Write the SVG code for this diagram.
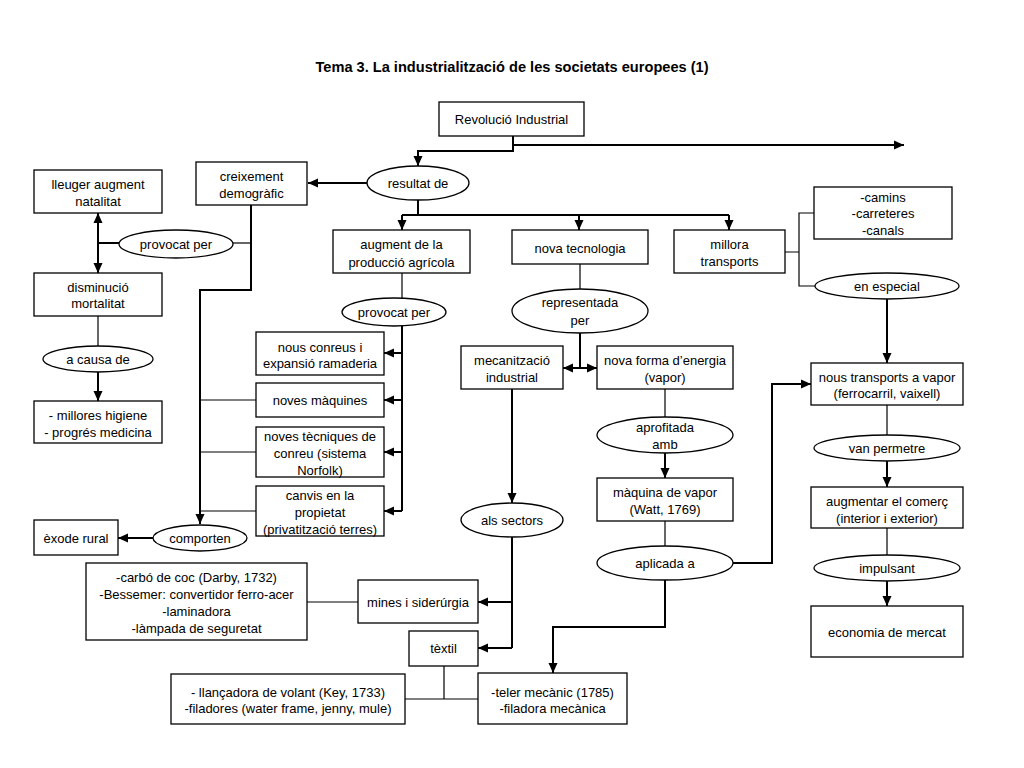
<svg xmlns="http://www.w3.org/2000/svg" width="1024" height="768" viewBox="0 0 1024 768">
<style>
text{font-family:"Liberation Sans",Arial,sans-serif;font-size:13px;fill:#000;text-anchor:middle;dominant-baseline:central}
.title{font-size:14.6px;font-weight:bold}
rect,ellipse{fill:#fff;stroke:#000;stroke-width:1.3}
.c path{fill:none;stroke:#000}
.a{stroke-width:2;marker-end:url(#ah)}
.t{stroke-width:1.2}
.k{stroke-width:2}
</style>
<defs>
<marker id="ah" markerUnits="userSpaceOnUse" markerWidth="10" markerHeight="10" viewBox="0 0 10 10" refX="10" refY="5" orient="auto"><path d="M0,0.5 L10,5 L0,9.5 Z" fill="#000"/></marker>
<marker id="as" markerUnits="userSpaceOnUse" markerWidth="10" markerHeight="10" viewBox="0 0 10 10" refX="0" refY="5" orient="auto"><path d="M10,0.5 L0,5 L10,9.5 Z" fill="#000"/></marker>
</defs>
<rect x="0" y="0" width="1024" height="768" style="fill:#fff;stroke:none"/>
<text class="title" x="512" y="67">Tema 3. La industrialització de les societats europees (1)</text>

<g class="c" id="connectors">
<path class="a" d="M513,136 V151 H418 V166"/>
<path class="a" d="M513,145 H904"/>
<path class="a" d="M367,183 H308"/>
<path class="k" d="M418,200 V215 M402,215 H729"/>
<path class="a" d="M402,215 V230"/>
<path class="a" d="M579,215 V230"/>
<path class="a" d="M729,215 V230"/>
<path class="a" d="M98,213 V273" style="marker-start:url(#as)"/>
<path class="k" d="M98,243 H119"/>
<path class="t" d="M233,243 H251"/>
<path class="a" d="M251,205 V290 H200 V524"/>
<path class="t" d="M200,400 H256 M200,452 H256 M200,511 H256"/>
<path class="a" d="M153,538 H118"/>
<path class="t" d="M98,316 V346"/>
<path class="a" d="M98,372 V401"/>
<path class="t" d="M402,273 V298"/>
<path class="k" d="M402,326 V511"/>
<path class="a" d="M402,353 H384"/>
<path class="a" d="M402,400 H384"/>
<path class="a" d="M402,452 H384"/>
<path class="a" d="M402,511 H384"/>
<path class="t" d="M580,264 V289"/>
<path class="k" d="M580,333 V368"/>
<path class="a" d="M580,368 H563"/>
<path class="a" d="M580,368 H597"/>
<path class="a" d="M512,389 V503"/>
<path class="k" d="M512,537 V648"/>
<path class="a" d="M512,602 H478"/>
<path class="a" d="M512,648 H478"/>
<path class="t" d="M665,389 V418"/>
<path class="a" d="M665,453 V478"/>
<path class="t" d="M665,521 V546"/>
<path class="a" d="M733,563 H772 V384 H811"/>
<path class="a" d="M665,580 V627 H553 V673"/>
<path class="t" d="M307,602 H358"/>
<path class="t" d="M444,666 V699 M405,699 H478"/>
<path class="t" d="M785,252 H799 M814,213 H799 V286 H815"/>
<path class="a" d="M887,299 V363"/>
<path class="t" d="M887,405 V435"/>
<path class="a" d="M887,461 V487"/>
<path class="t" d="M887,528 V555"/>
<path class="a" d="M887,581 V606"/>
</g>

<g id="revolucio"><rect x="439" y="102" width="145" height="34"/><text x="511.5" y="119">Revolució Industrial</text></g>
<g id="resultat"><ellipse cx="418" cy="183" rx="51" ry="17"/><text x="418" y="183">resultat de</text></g>
<g id="creixement"><rect x="196" y="162" width="111" height="43"/><text x="251.5" y="176">creixement</text><text x="251.5" y="193">demogràfic</text></g>
<g id="lleuger"><rect x="34" y="170" width="128" height="43"/><text x="98" y="184">lleuger augment</text><text x="98" y="201">natalitat</text></g>
<g id="provocat1"><ellipse cx="176" cy="244" rx="57" ry="14"/><text x="176" y="244">provocat per</text></g>
<g id="disminucio"><rect x="34" y="273" width="128" height="43"/><text x="98" y="287">disminució</text><text x="98" y="303">mortalitat</text></g>
<g id="acausa"><ellipse cx="98" cy="359" rx="55" ry="13"/><text x="98" y="359">a causa de</text></g>
<g id="millores"><rect x="34" y="401" width="128" height="42"/><text x="98" y="415">- millores higiene</text><text x="98" y="432">- progrés medicina</text></g>
<g id="exode"><rect x="34" y="520" width="84" height="35"/><text x="76" y="538">èxode rural</text></g>
<g id="comporten"><ellipse cx="200" cy="538" rx="47" ry="13"/><text x="200" y="538">comporten</text></g>
<g id="augment"><rect x="333" y="230" width="137" height="43"/><text x="401.5" y="244">augment de la</text><text x="401.5" y="262">producció agrícola</text></g>
<g id="provocat2"><ellipse cx="394" cy="312" rx="52" ry="14"/><text x="394" y="312">provocat per</text></g>
<g id="conreus"><rect x="256" y="332" width="128" height="43"/><text x="320" y="347">nous conreus i</text><text x="320" y="363">expansió ramaderia</text></g>
<g id="maquines"><rect x="256" y="383" width="128" height="34"/><text x="320" y="400">noves màquines</text></g>
<g id="tecniques"><rect x="256" y="427" width="128" height="50"/><text x="320" y="436">noves tècniques de</text><text x="320" y="453">conreu (sistema</text><text x="320" y="470">Norfolk)</text></g>
<g id="canvis"><rect x="256" y="486" width="128" height="50"/><text x="320" y="495">canvis en la</text><text x="320" y="512">propietat</text><text x="320" y="529">(privatització terres)</text></g>
<g id="novatec"><rect x="512" y="230" width="136" height="34"/><text x="580" y="248">nova tecnologia</text></g>
<g id="representada"><ellipse cx="580" cy="311" rx="68" ry="22"/><text x="580" y="302">representada</text><text x="580" y="320">per</text></g>
<g id="mecanitzacio"><rect x="461" y="346" width="102" height="43"/><text x="512" y="360">mecanització</text><text x="512" y="377">industrial</text></g>
<g id="novaforma"><rect x="597" y="346" width="136" height="43"/><text x="665" y="360">nova forma d’energia</text><text x="665" y="377">(vapor)</text></g>
<g id="aprofitada"><ellipse cx="665" cy="435" rx="68" ry="18"/><text x="665" y="427">aprofitada</text><text x="665" y="444">amb</text></g>
<g id="maquina"><rect x="597" y="478" width="136" height="43"/><text x="665" y="492">màquina de vapor</text><text x="665" y="509">(Watt, 1769)</text></g>
<g id="aplicada"><ellipse cx="665" cy="563" rx="68" ry="17"/><text x="665" y="563">aplicada a</text></g>
<g id="sectors"><ellipse cx="512" cy="520" rx="51" ry="17"/><text x="512" y="520">als sectors</text></g>
<g id="mines"><rect x="358" y="580" width="120" height="43"/><text x="418" y="602">mines i siderúrgia</text></g>
<g id="carbo"><rect x="86" y="563" width="221" height="77"/><text x="196.5" y="577">-carbó de coc (Darby, 1732)</text><text x="196.5" y="594">-Bessemer: convertidor ferro-acer</text><text x="196.5" y="611">-laminadora</text><text x="196.5" y="628">-làmpada de seguretat</text></g>
<g id="textil"><rect x="409" y="631" width="69" height="35"/><text x="443.5" y="648">tèxtil</text></g>
<g id="llancadora"><rect x="171" y="674" width="234" height="50"/><text x="288" y="692">- llançadora de volant (Key, 1733)</text><text x="288" y="708">-filadores (water frame, jenny, mule)</text></g>
<g id="teler"><rect x="478" y="673" width="149" height="51"/><text x="552.5" y="692">-teler mecànic (1785)</text><text x="552.5" y="708">-filadora mecànica</text></g>
<g id="millora"><rect x="674" y="230" width="111" height="43"/><text x="729.5" y="244">millora</text><text x="729.5" y="261">transports</text></g>
<g id="camins"><rect x="814" y="187" width="138" height="52"/><text x="883" y="197">-camins</text><text x="883" y="213">-carreteres</text><text x="883" y="230">-canals</text></g>
<g id="especial"><ellipse cx="887" cy="286" rx="72" ry="13"/><text x="887" y="286">en especial</text></g>
<g id="nousvapor"><rect x="811" y="363" width="152" height="42"/><text x="887" y="377">nous transports a vapor</text><text x="887" y="393">(ferrocarril, vaixell)</text></g>
<g id="permetre"><ellipse cx="887" cy="448" rx="73" ry="13"/><text x="887" y="448">van permetre</text></g>
<g id="comerc"><rect x="811" y="487" width="152" height="41"/><text x="887" y="501">augmentar el comerç</text><text x="887" y="518">(interior i exterior)</text></g>
<g id="impulsant"><ellipse cx="887" cy="568" rx="73" ry="13"/><text x="887" y="568">impulsant</text></g>
<g id="economia"><rect x="811" y="606" width="152" height="51"/><text x="887" y="632">economia de mercat</text></g>
</svg>
